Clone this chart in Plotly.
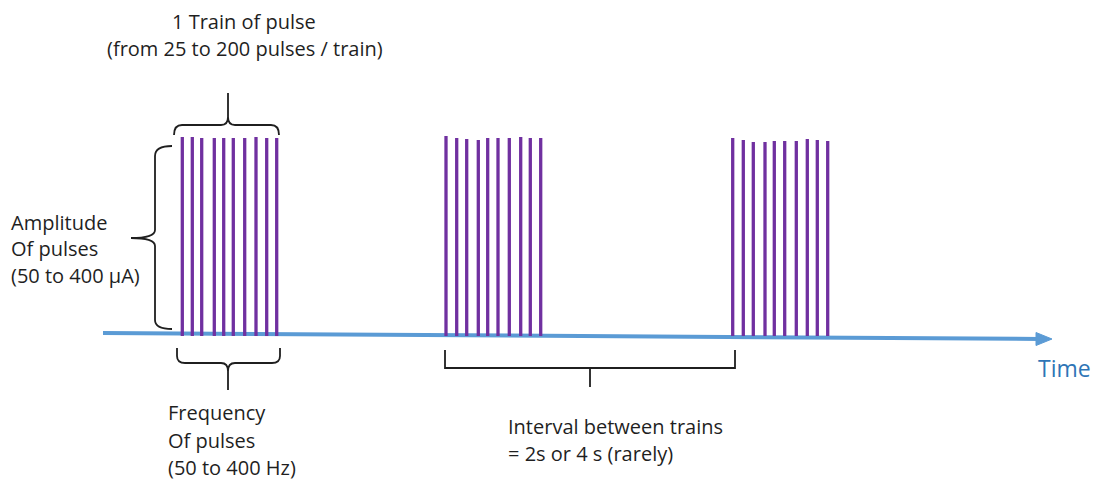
import plotly.graph_objects as go

# ---- data: pulse times (time units along the axis) and amplitudes ----
train1_t = [182.3, 192.3, 201.7, 214.3, 223.7, 233.3, 244.7, 256.0, 266.7, 276.7]
train1_a = [198, 198, 197, 197, 197, 197, 197, 198, 197, 197]
train2_t = [446.0, 456.7, 466.7, 478.3, 487.7, 498.0, 509.3, 520.7, 530.3, 540.7]
train2_a = [199, 197, 196, 195, 197, 197, 197, 198, 197, 197]
train3_t = [732.7, 743.3, 753.3, 765.0, 774.3, 784.7, 796.3, 807.3, 817.3, 827.7]
train3_a = [197, 195, 193, 193, 194, 194, 194, 196, 195, 194]
trains = [(train1_t, train1_a), (train2_t, train2_a), (train3_t, train3_a)]

PULSE = "#7030A0"
AXIS = "#5B9BD5"
TXT = "#1f1f1f"
FONT = "Open Sans"
W, H = 1098, 480

fig = go.Figure()
for t, a in trains:
    xs, ys = [], []
    for ti, ai in zip(t, a):
        xs += [ti, ti, None]
        ys += [-1, ai, None]
    fig.add_trace(go.Scatter(x=xs, y=ys, mode="lines",
                             line=dict(color=PULSE, width=3.3),
                             hoverinfo="skip", showlegend=False))

def shp(path, color=TXT, width=1.8):
    return dict(type="path", path=path, xref="x", yref="y2",
                line=dict(color=color, width=width), layer="above")

shapes = [
    # time axis line + arrow head
    dict(type="line", x0=103, y0=333, x1=1040, y1=339, xref="x", yref="y2",
         line=dict(color=AXIS, width=4), layer="below"),
    dict(type="path", path="M 1036,332.5 L 1052,339 L 1036,345.5 Z", xref="x", yref="y2",
         fillcolor=AXIS, line=dict(color=AXIS, width=1), layer="below"),
    # top brace
    shp("M 174,135 Q 174,125 182,125 L 221,125 Q 228,125 228,117 L 228,93 "
        "M 228,117 Q 228,125 235,125 L 271,125 Q 279,125 279,135"),
    # left brace
    shp("M 172,146 Q 155,146 155,156 L 155,230 Q 155,238 131,238 "
        "Q 155,238 155,246 L 155,320 Q 155,329 172,329"),
    # bottom brace
    shp("M 177,348 L 177,356 Q 177,363 185,363 L 221,363 Q 228,363 228,371 L 228,390 "
        "M 228,371 Q 228,363 235,363 L 272,363 Q 280,363 280,356 L 280,348"),
    # interval bracket
    shp("M 445,350 L 445,368 L 735,368 L 735,350 M 590,368 L 590,387"),
]

def ann(text, x, y, anchor="left", size=20, color=TXT):
    return dict(text=text, x=x, y=y, xref="x", yref="y2", showarrow=False,
                xanchor=anchor, yanchor="middle",
                font=dict(family=FONT, size=size, color=color))

annotations = [
    ann("1 Train of pulse", 244, 21, "center"),
    ann("(from 25 to 200 pulses / train)", 245, 48, "center"),
    ann("Amplitude", 9, 222),
    ann("Of pulses", 9, 248),
    ann("(50 to 400 µA)", 9, 275),
    ann("Frequency", 166, 412),
    ann("Of pulses", 166, 440),
    ann("(50 to 400 Hz)", 166, 467),
    ann("Interval between trains", 506, 426),
    ann("= 2s or 4 s (rarely)", 506, 453),
    ann("Time", 1064, 368, "center", size=23, color="#2E75B6"),
]

fig.update_layout(
    width=W, height=H,
    margin=dict(l=0, r=0, t=0, b=0),
    paper_bgcolor="white", plot_bgcolor="white",
    xaxis=dict(range=[0, W], visible=False, fixedrange=True),
    yaxis=dict(range=[335 - H, 335], visible=False, fixedrange=True),
    yaxis2=dict(range=[H, 0], overlaying="y", visible=False, fixedrange=True),
    shapes=shapes, annotations=annotations,
)

fig.write_html("out.html", config={"displayModeBar": False},
               post_script="document.body.style.margin='0';document.body.style.overflow='hidden';")
